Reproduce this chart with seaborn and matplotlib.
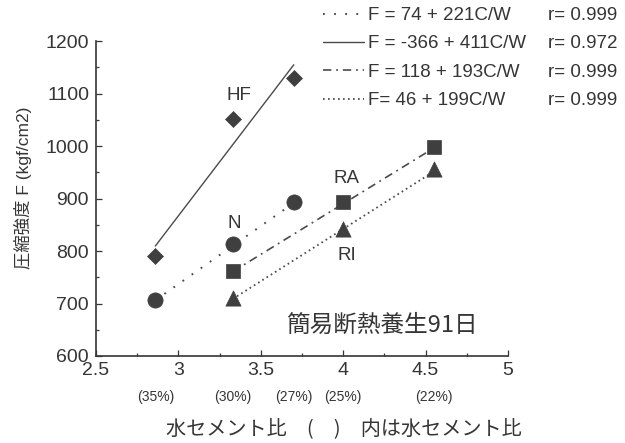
import matplotlib
matplotlib.use("Agg")
import matplotlib.pyplot as plt
from matplotlib.lines import Line2D
from matplotlib.ticker import MultipleLocator
import seaborn as sns

# cement/water ratio C/W of each mix
cw_hf = [2.86, 3.33, 3.70]
cw_n = [2.86, 3.33, 3.70]
cw_ra = [3.33, 4.00, 4.55]
cw_ri = [3.33, 4.00, 4.55]

# compressive strength F (kgf/cm2)
f_hf = [790, 1052, 1130]
f_n = [706, 814, 894]
f_ra = [761, 894, 998]
f_ri = [710, 842, 956]

# regression lines F = a + b*C/W, in legend order
fit_names = ["N", "HF", "RA", "RI"]
fit_a = [74, -366, 118, 46]
fit_b = [221, 411, 193, 199]
fit_labels = ["F = 74 + 221C/W", "F = -366 + 411C/W",
              "F = 118 + 193C/W", "F= 46 + 199C/W"]
r_labels = ["r= 0.999", "r= 0.972", "r= 0.999", "r= 0.999"]

# water/cement ratio shown under the C/W ticks
wc_pos = [2.86, 3.33, 3.70, 4.00, 4.55]
wc_text = ["(35%)", "(30%)", "(27%)", "(25%)", "(22%)"]

sns.set_theme(style="ticks")
plt.rcParams["font.family"] = ["Liberation Sans", "Noto Sans CJK JP"]
plt.rcParams["lines.scale_dashes"] = False

INK = "#353535"
MARK = "#3f3f3f"
LINE = "#4a4a4a"

fig = plt.figure(figsize=(6.25, 4.43), dpi=100)
ax = fig.add_axes([96 / 625, 1 - 356 / 443, 412 / 625, 315 / 443])

styles = {
    "N": dict(ls=(0, (1.3, 6.7)), lw=1.4),
    "HF": dict(ls="-", lw=1.0),
    "RA": dict(ls=(0, (6, 3.5, 1.3, 3.5)), lw=1.2),
    "RI": dict(ls=(0, (1.2, 2.4)), lw=1.3),
}
xs = {"HF": cw_hf, "N": cw_n, "RA": cw_ra, "RI": cw_ri}
ys = {"HF": f_hf, "N": f_n, "RA": f_ra, "RI": f_ri}
markers = {"HF": ("D", 66), "N": ("o", 120), "RA": ("s", 90), "RI": ("^", 120)}

# regression lines over the C/W range of each mix
handles = []
for name, a, b in zip(fit_names, fit_a, fit_b):
    x0, x1 = min(xs[name]), max(xs[name])
    st = styles[name]
    sns.lineplot(x=[x0, x1], y=[a + b * x0, a + b * x1], ax=ax,
                 color=LINE, linestyle=st["ls"], linewidth=st["lw"])
    handles.append(Line2D([], [], color=LINE, linestyle=st["ls"], linewidth=st["lw"]))

# measured strengths
for name in ["HF", "N", "RA", "RI"]:
    m, s = markers[name]
    sns.scatterplot(x=xs[name], y=ys[name], ax=ax, marker=m, s=s,
                    color=MARK, edgecolor=MARK, linewidth=0.5, zorder=3)

ax.set_xlim(2.5, 5)
ax.set_ylim(600, 1200)
ax.xaxis.set_major_locator(MultipleLocator(0.5))
ax.xaxis.set_minor_locator(MultipleLocator(0.25))
ax.yaxis.set_major_locator(MultipleLocator(100))
ax.yaxis.set_minor_locator(MultipleLocator(50))
ax.set_xticks([2.5, 3, 3.5, 4, 4.5, 5], ["2.5", "3", "3.5", "4", "4.5", "5"])
ax.tick_params(which="both", direction="in", color=INK, labelcolor=INK,
               labelsize=14, width=0.9)
ax.tick_params(which="major", length=4)
ax.tick_params(which="minor", length=2.5)
ax.tick_params(axis="x", pad=4)
ax.tick_params(axis="y", pad=5)
for side in ["left", "bottom"]:
    ax.spines[side].set_color(INK)
    ax.spines[side].set_linewidth(1.2)
for side in ["top", "right"]:
    ax.spines[side].set_visible(False)
ax.set_xlabel("")
ax.set_ylabel("")

# series names and curing note
ann = dict(color=INK, fontsize=13.5, ha="center", va="center")
ax.text(3.37, 1097, "HF", **ann)
ax.text(3.34, 853, "N", **ann)
ax.text(4.02, 939, "RA", **ann)
ax.text(4.02, 792, "RI", **ann)
ax.text(4.235, 659, "簡易断熱養生91日", color=INK, fontsize=17,
        ha="center", va="center", family=["Noto Sans CJK JP"])

for xp, t in zip(wc_pos, wc_text):
    ax.text(xp, -0.13, t, transform=ax.get_xaxis_transform(),
            ha="center", va="center", fontsize=10, color=INK)

fig.text(344 / 625, 1 - 430 / 443, "水セメント比　(　)　内は水セメント比",
         ha="center", va="center", fontsize=14.5, color=INK,
         family=["Noto Sans CJK JP"])
fig.text(23 / 625, 1 - 188 / 443, "圧縮強度 F (kgf/cm2)", rotation=90,
         ha="center", va="center", fontsize=12.5, color=INK)

# equations with correlation coefficients
blank = [Line2D([], [], linestyle="none") for _ in r_labels]
leg = fig.legend(handles + blank, fit_labels + r_labels, ncol=2,
                 loc="upper left", bbox_to_anchor=(323 / 625, 1 - 7 / 443),
                 frameon=False, fontsize=13.5, handlelength=2.2,
                 handletextpad=0.2, labelspacing=0.6, columnspacing=-1.25,
                 borderpad=0, borderaxespad=0)
for t in leg.get_texts():
    t.set_color(INK)

fig.savefig("out.png", dpi=100)
